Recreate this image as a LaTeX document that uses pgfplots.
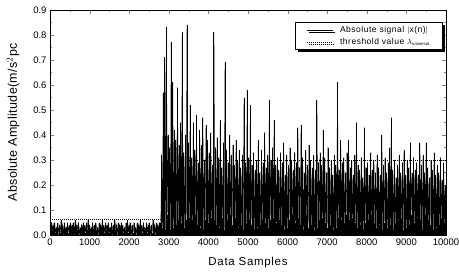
\documentclass[border=0pt]{standalone}
\usepackage{pgfplots}
\usepackage{pgfplotstable}
\pgfplotsset{compat=1.18}
\usepackage{fontspec}
\setmainfont{Liberation Sans}
\usetikzlibrary{shadows,calc}
\pgfplotstableread[row sep=\\]{
0.04\\0.01\\0.05\\0.02\\0.04\\0.00\\0.05\\0.01\\0.03\\0.02\\
0.05\\0.00\\0.04\\0.01\\0.06\\0.02\\0.04\\0.00\\0.05\\0.01\\
0.03\\0.02\\0.05\\0.01\\0.04\\0.00\\0.05\\0.02\\0.04\\0.01\\
0.05\\0.00\\0.06\\0.01\\0.04\\0.02\\0.05\\0.00\\0.03\\0.01\\
0.04\\0.02\\0.05\\0.00\\0.04\\0.01\\0.05\\0.02\\0.06\\0.00\\
0.04\\0.01\\0.03\\0.02\\0.05\\0.00\\0.04\\0.01\\0.05\\0.02\\
0.03\\0.00\\0.05\\0.01\\0.04\\0.02\\0.06\\0.00\\0.04\\0.01\\
0.05\\0.02\\0.04\\0.00\\0.05\\0.01\\0.03\\0.02\\0.05\\0.00\\
0.04\\0.01\\0.06\\0.02\\0.04\\0.00\\0.05\\0.01\\0.04\\0.02\\
0.05\\0.00\\0.04\\0.01\\0.03\\0.02\\0.05\\0.00\\0.06\\0.01\\
0.04\\0.02\\0.05\\0.00\\0.04\\0.01\\0.05\\0.02\\0.03\\0.00\\
0.05\\0.01\\0.04\\0.02\\0.06\\0.00\\0.04\\0.01\\0.05\\0.02\\
0.03\\0.00\\0.05\\0.01\\0.04\\0.02\\0.05\\0.00\\0.04\\0.01\\
0.06\\0.02\\0.04\\0.00\\0.05\\0.01\\0.04\\0.02\\0.05\\0.01\\
0.05\\0.32\\0.03\\0.57\\0.06\\0.71\\0.02\\0.83\\0.08\\0.40\\
0.05\\0.35\\0.02\\0.77\\0.07\\0.61\\0.03\\0.42\\0.09\\0.38\\
0.04\\0.59\\0.06\\0.36\\0.02\\0.45\\0.05\\0.81\\0.08\\0.33\\
0.03\\0.40\\0.06\\0.84\\0.04\\0.37\\0.07\\0.52\\0.03\\0.31\\
0.06\\0.45\\0.02\\0.34\\0.08\\0.48\\0.04\\0.29\\0.05\\0.42\\
0.03\\0.36\\0.07\\0.47\\0.02\\0.30\\0.06\\0.44\\0.04\\0.38\\
0.05\\0.33\\0.03\\0.41\\0.07\\0.28\\0.02\\0.81\\0.06\\0.35\\
0.04\\0.39\\0.08\\0.31\\0.03\\0.46\\0.05\\0.27\\0.07\\0.37\\
0.02\\0.69\\0.05\\0.34\\0.06\\0.29\\0.03\\0.40\\0.08\\0.32\\
0.04\\0.36\\0.02\\0.28\\0.07\\0.38\\0.05\\0.30\\0.03\\0.34\\
0.06\\0.27\\0.04\\0.32\\0.02\\0.55\\0.07\\0.29\\0.05\\0.58\\
0.03\\0.31\\0.06\\0.52\\0.04\\0.28\\0.08\\0.33\\0.02\\0.26\\
0.05\\0.30\\0.03\\0.38\\0.07\\0.25\\0.04\\0.34\\0.06\\0.29\\
0.02\\0.41\\0.05\\0.27\\0.08\\0.32\\0.03\\0.54\\0.06\\0.30\\
0.04\\0.35\\0.07\\0.46\\0.02\\0.28\\0.05\\0.31\\0.03\\0.26\\
0.06\\0.33\\0.04\\0.29\\0.07\\0.37\\0.02\\0.24\\0.05\\0.32\\
0.03\\0.28\\0.06\\0.35\\0.04\\0.30\\0.08\\0.26\\0.02\\0.33\\
0.05\\0.29\\0.03\\0.43\\0.07\\0.27\\0.04\\0.44\\0.06\\0.31\\
0.02\\0.25\\0.05\\0.34\\0.08\\0.28\\0.03\\0.36\\0.06\\0.30\\
0.04\\0.27\\0.07\\0.32\\0.02\\0.26\\0.05\\0.54\\0.03\\0.29\\
0.06\\0.33\\0.04\\0.28\\0.07\\0.42\\0.02\\0.31\\0.05\\0.25\\
0.03\\0.35\\0.06\\0.27\\0.04\\0.30\\0.08\\0.24\\0.02\\0.32\\
0.05\\0.28\\0.03\\0.61\\0.07\\0.26\\0.04\\0.38\\0.06\\0.29\\
0.02\\0.31\\0.05\\0.25\\0.08\\0.33\\0.03\\0.38\\0.06\\0.27\\
0.04\\0.30\\0.07\\0.24\\0.02\\0.32\\0.05\\0.45\\0.03\\0.28\\
0.06\\0.26\\0.04\\0.31\\0.07\\0.23\\0.02\\0.43\\0.05\\0.27\\
0.03\\0.29\\0.06\\0.24\\0.04\\0.33\\0.08\\0.26\\0.02\\0.30\\
0.05\\0.25\\0.03\\0.32\\0.07\\0.27\\0.04\\0.24\\0.06\\0.40\\
0.02\\0.28\\0.05\\0.31\\0.08\\0.25\\0.03\\0.29\\0.06\\0.35\\
0.04\\0.47\\0.07\\0.26\\0.02\\0.30\\0.05\\0.23\\0.03\\0.28\\
0.06\\0.32\\0.04\\0.25\\0.07\\0.29\\0.02\\0.34\\0.05\\0.24\\
0.03\\0.30\\0.06\\0.27\\0.04\\0.37\\0.08\\0.25\\0.02\\0.31\\
0.05\\0.26\\0.03\\0.29\\0.07\\0.24\\0.04\\0.37\\0.06\\0.28\\
0.02\\0.32\\0.05\\0.25\\0.08\\0.37\\0.03\\0.27\\0.06\\0.23\\
0.04\\0.30\\0.07\\0.26\\0.02\\0.33\\0.05\\0.24\\0.03\\0.28\\
0.06\\0.25\\0.04\\0.31\\0.07\\0.22\\0.02\\0.29\\0.05\\0.20\\
0.04\\
}\sig
\begin{document}
\begin{tikzpicture}
\begin{axis}[
  name=ax,
  scale only axis,
  width=396pt, height=225pt,
  xmin=0, xmax=10000, ymin=0, ymax=0.9,
  xtick={0,1000,...,10000},
  minor xtick={500,1500,...,9500},
  ytick={0,0.1,...,0.9},
  minor ytick={0.05,0.15,...,0.85},
  tick pos=both, tick align=inside,
  major tick length=4pt, minor tick length=2pt,
  scaled x ticks=false,
  /pgf/number format/assume math mode=true,
  xticklabel style={/pgf/number format/fixed, /pgf/number format/1000 sep={}, font=\fontsize{9.5}{11}\selectfont},
  yticklabel style={/pgf/number format/fixed, /pgf/number format/fixed zerofill, /pgf/number format/precision=1, font=\fontsize{9.5}{11}\selectfont},
  xlabel={Data Samples},
  ylabel={Absolute Amplitude(m/s$^2$pc},
  every axis x label/.style={at={(axis description cs:0.5,-0.124)}, anchor=center,
    font=\fontsize{11.5}{12}\selectfont\addfontfeature{LetterSpace=6}},
  every axis y label/.style={at={(axis description cs:-0.093,0.5)}, anchor=center, rotate=90,
    font=\fontsize{12.5}{13}\selectfont\addfontfeature{LetterSpace=3}},
  axis line style={line width=0.8pt},
  legend style={at={(0.9925,0.947)}, anchor=north east, draw=black, line width=0.7pt, fill=white,
    drop shadow={shadow xshift=2.5pt, shadow yshift=-2.5pt, fill=black, opacity=1},
    font=\fontsize{8.5}{9}\selectfont\addfontfeature{LetterSpace=6}, row sep=0pt, inner xsep=11pt, inner ysep=2pt},
  legend image code/.code={\draw[#1] (0pt,0pt) -- (26pt,0pt); \path (31pt,0pt);},
  legend cell align=left,
]
\addplot[black, ycomb, line width=0.9pt, forget plot] table[x expr=\coordindex*20, y index=0] {\sig};
\addplot[black, line width=0.5pt] table[x expr=\coordindex*20, y index=0] {\sig};
\addlegendentry{Absolute signal $|$x(n)$|$}
\addplot[black, line width=0.5pt, dash pattern=on 1pt off 1pt] coordinates {(0,0.065) (2800,0.065)};
\addlegendentry{threshold value $\lambda_{\mathrm{\scriptscriptstyle universal}}$}
\addplot[black, line width=0.5pt, dash pattern=on 1pt off 1pt, forget plot] coordinates {(2800,0.30) (10000,0.30)};
\end{axis}
\pgfresetboundingbox
\path[use as bounding box] ($(ax.south west)+(-50pt,-38pt)$) rectangle ($(ax.north east)+(13pt,10pt)$);
\end{tikzpicture}
\end{document}
